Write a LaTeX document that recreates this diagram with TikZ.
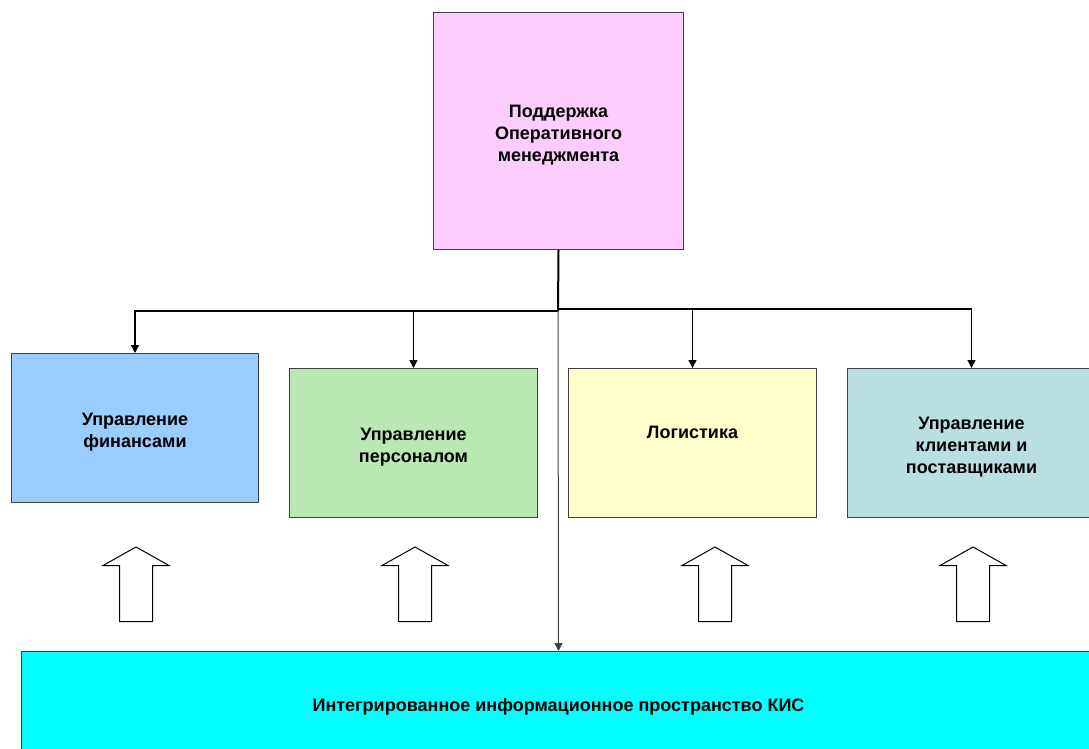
\documentclass[tikz,border=0pt]{standalone}
\usepackage{fontspec}
\setmainfont{Liberation Sans}
\usetikzlibrary{arrows.meta}

\definecolor{pinkbox}{HTML}{FFCCFF}
\definecolor{bluebox}{HTML}{99CCFF}
\definecolor{greenbox}{HTML}{B9E8B3}
\definecolor{yellowbox}{HTML}{FFFFCC}
\definecolor{tealbox}{HTML}{B9E0E1}
\definecolor{cyanbox}{HTML}{00FFFF}
\definecolor{edgegray}{HTML}{404040}

\newcommand{\toplift}{\rule{0pt}{20pt}}

\tikzset{
  box/.style={draw=edgegray, line width=1pt, anchor=north west, align=center,
    font=\fontsize{18}{22}\selectfont\bfseries, inner sep=0pt},
  conn/.style={line width=1.4pt, -{Triangle[width=8pt,length=8pt]}},
  hollow/.style={draw=black, fill=white, line width=1pt, line join=miter}
}

\begin{document}
\begin{tikzpicture}[x=1pt, y=-1pt]
  \useasboundingbox (0,0) rectangle (1089,749);

  % Boxes
  \node[box, fill=pinkbox, minimum width=250, minimum height=237] (top) at (433,12)
    {\toplift Поддержка\\Оперативного\\менеджмента};
  \node[box, fill=bluebox, minimum width=247, minimum height=149] (fin) at (11,353)
    {\toplift Управление\\финансами};
  \node[box, fill=greenbox, minimum width=248, minimum height=149] (pers) at (289,368)
    {\toplift Управление\\персоналом};
  \node[box, fill=yellowbox, minimum width=248, minimum height=149] (log) at (568,368)
    {Логистика\\\mbox{}};
  \node[box, fill=tealbox, minimum width=248, minimum height=149] (cli) at (847,368)
    {\toplift Управление\\клиентами и\\поставщиками};
  \node[box, fill=cyanbox, minimum width=1074, minimum height=110] (kis) at (21,651)
    {Интегрированное информационное пространство КИС};

  % Connectors
  \coordinate (jun) at (558,311);
  \coordinate (junr) at (558,309);
  \draw[line width=2pt] (top.south) -- (jun);
  \draw[conn] (jun) -| (fin.north);
  \draw[conn] (pers.north |- jun) -- (pers.north);
  \draw[line width=1.4pt] (jun) -- (junr);
  \draw[conn] (junr) -| (cli.north);
  \draw[conn] (log.north |- junr) -- (log.north);
  \draw[conn, line width=1pt, draw=edgegray] (jun) -- (kis.north);

  % Hollow arrows
  \foreach \cx in {136,415,715,973}
    \draw[hollow] (\cx,547) -- (\cx+33,565.5) -- (\cx+16.5,565.5) -- (\cx+16.5,621.5)
      -- (\cx-16.5,621.5) -- (\cx-16.5,565.5) -- (\cx-33,565.5) -- cycle;
\end{tikzpicture}
\end{document}
